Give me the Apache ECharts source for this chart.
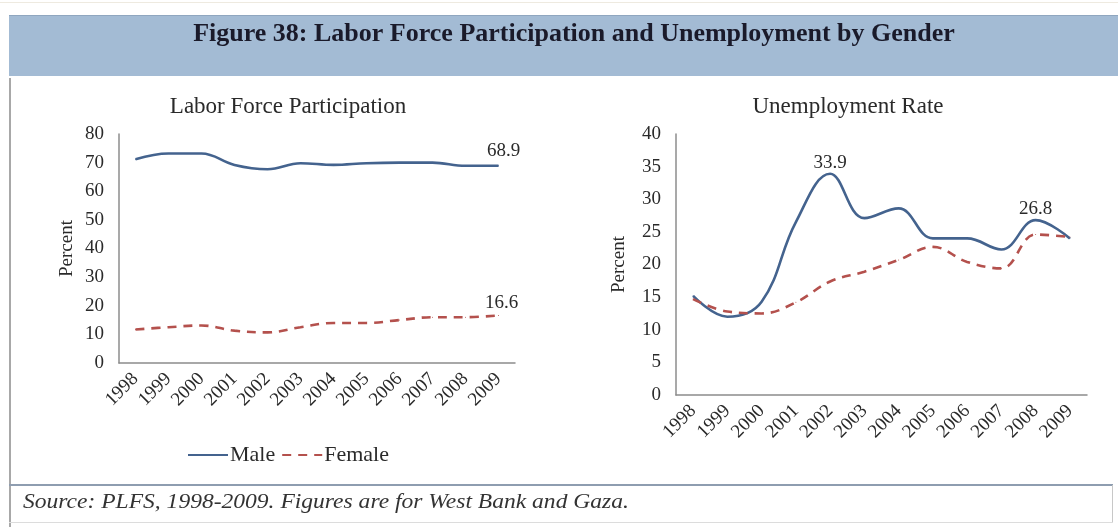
<!DOCTYPE html>
<html><head><meta charset="utf-8">
<script src="https://cdn.jsdelivr.net/npm/echarts@6/dist/echarts.min.js"></script>
<style>html,body{margin:0;padding:0;background:#fff}#c{width:1118px;height:527px}</style>
</head><body><div id="c"></div>
<script>
const years = ['1998','1999','2000','2001','2002','2003','2004','2005','2006','2007','2008','2009'];
const lfpMale = [71.2, 73.2, 73.2, 69.2, 67.7, 69.8, 69.2, 69.8, 70.0, 70.0, 68.9, 68.9];
const lfpFemale = [11.7, 12.5, 13.1, 11.3, 10.7, 12.5, 14.0, 14.0, 15.0, 16.0, 16.0, 16.6];
const unempMale = [15.2, 12.0, 14.3, 26.5, 33.9, 27.1, 28.6, 24.0, 24.0, 22.3, 26.8, 24.0];
const unempFemale = [14.7, 12.8, 12.5, 14.2, 17.4, 18.9, 20.7, 22.7, 20.4, 19.4, 24.6, 24.2];
const lfpLabelIdx = [11];
const unempLabelIdx = [4, 10];
const mainTitle = 'Figure 38: Labor Force Participation and Unemployment by Gender';
const leftTitle = 'Labor Force Participation';
const rightTitle = 'Unemployment Rate';
const sourceText = 'Source: PLFS, 1998-2009. Figures are for West Bank and Gaza.';

const SERIF = '"Liberation Serif", "Times New Roman", serif';
const MALE = '#44638e';
const FEMALE = '#b4514d';
const AX = '#8c8c8c';
const TXT = '#2a2a2a';

function withLabels(arr, idx, offset, dist) {
  return arr.map((v, i) => idx.includes(i)
    ? { value: v, label: { show: true, position: 'top', distance: dist, offset: offset || [0,0], formatter: '{c}',
        fontFamily: SERIF, fontSize: 19, color: TXT } }
    : v);
}

const chart = echarts.init(document.getElementById('c'), null, { renderer: 'canvas' });

const xAxisBase = {
  type: 'category', data: years, boundaryGap: true,
  axisLine: { lineStyle: { color: AX, width: 1.5 } },
  axisTick: { show: false },
  axisLabel: { rotate: 45, margin: 13, fontFamily: SERIF, fontSize: 19, color: TXT, interval: 0 }
};
const yAxisBase = {
  type: 'value', min: 0,
  axisLine: { show: true, lineStyle: { color: AX, width: 1.5 } },
  axisTick: { show: false },
  splitLine: { show: false },
  axisLabel: { fontFamily: SERIF, fontSize: 19, color: TXT, margin: 15 },
  name: 'Percent', nameLocation: 'middle', nameRotate: 90,
  nameTextStyle: { fontFamily: SERIF, fontSize: 19, color: TXT }
};

function lineSeries(name, xi, data, color, dashed) {
  return {
    name: name, type: 'line', xAxisIndex: xi, yAxisIndex: xi, smooth: 0.4,
    symbol: 'circle', symbolSize: 1, showSymbol: true,
    lineStyle: { color: color, width: 2.6, type: dashed ? [9, 7] : 'solid' },
    itemStyle: { color: color },
    data: data
  };
}

chart.setOption({
  animation: false,
  backgroundColor: '#ffffff',
  title: [
    { text: leftTitle, left: 283, top: 90, textAlign: 'center',
      textStyle: { fontFamily: SERIF, fontSize: 23, fontWeight: 'normal', color: TXT } },
    { text: rightTitle, left: 843, top: 90, textAlign: 'center',
      textStyle: { fontFamily: SERIF, fontSize: 23, fontWeight: 'normal', color: TXT } }
  ],
  graphic: [
    { type: 'rect', shape: { x: 9, y: 15, width: 1109, height: 61 }, style: { fill: '#a3bbd4' }, z: -10 },
    { type: 'rect', shape: { x: 9, y: 15, width: 1109, height: 1 }, style: { fill: '#8fa6bf' }, z: -10 },
    { type: 'rect', shape: { x: 0, y: 2, width: 1118, height: 1 }, style: { fill: '#eeeae0' }, z: -10 },
    { type: 'rect', shape: { x: 9, y: 78, width: 2, height: 449 }, style: { fill: '#a8a8a8' }, z: -10 },
    { type: 'rect', shape: { x: 9, y: 484, width: 1104, height: 2 }, style: { fill: '#8e9db0' }, z: -10 },
    { type: 'rect', shape: { x: 1112, y: 485, width: 1, height: 38 }, style: { fill: '#c8c8c8' }, z: -10 },
    { type: 'rect', shape: { x: 9, y: 522, width: 1104, height: 1 }, style: { fill: '#dcdcdc' }, z: -10 },
    { type: 'text', x: 574, y: 34, style: { text: mainTitle, fill: '#1a1a2a', align: 'center', verticalAlign: 'middle',
        fontFamily: SERIF, fontSize: 26, fontWeight: 'bold' } },
    { type: 'text', x: 23, y: 502, scaleX: 1.07, style: { text: sourceText, fill: '#333333', align: 'left', verticalAlign: 'middle',
        fontFamily: SERIF, fontSize: 22, fontStyle: 'italic' } }
  ],
  legend: {
    data: ['Male', 'Female'], left: 182, top: 439,
    itemWidth: 40, itemHeight: 12, itemGap: 6,
    itemStyle: { opacity: 0 },
    textStyle: { fontFamily: SERIF, fontSize: 22, color: TXT, padding: [0, 0, 0, -3] }
  },
  grid: [
    { left: 119, right: 603, top: 134, bottom: 164 },
    { left: 676, right: 31, top: 134, bottom: 132 }
  ],
  xAxis: [
    Object.assign({}, xAxisBase, { gridIndex: 0 }),
    Object.assign({}, xAxisBase, { gridIndex: 1 })
  ],
  yAxis: [
    Object.assign({}, yAxisBase, { gridIndex: 0, max: 80, interval: 10, nameGap: 42 }),
    Object.assign({}, yAxisBase, { gridIndex: 1, max: 40, interval: 5, nameGap: 47 })
  ],
  series: [
    lineSeries('Male', 0, withLabels(lfpMale, lfpLabelIdx, [5, 0], 5), MALE, false),
    lineSeries('Female', 0, withLabels(lfpFemale, lfpLabelIdx, [3, 0], 2), FEMALE, true),
    lineSeries('Male', 1, withLabels(unempMale, unempLabelIdx, [0, 0], 1), MALE, false),
    lineSeries('Female', 1, unempFemale, FEMALE, true)
  ]
});
</script>
</body></html>
